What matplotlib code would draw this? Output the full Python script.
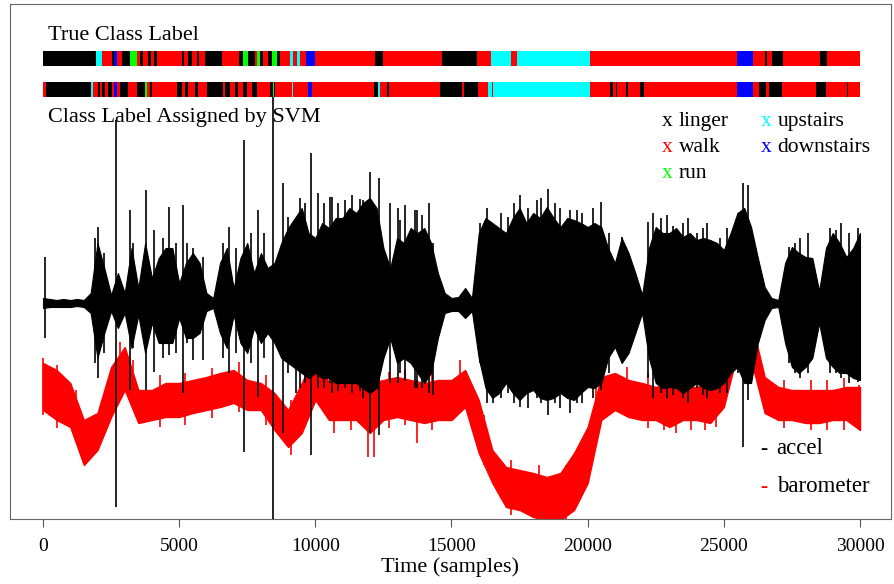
import numpy as np
import matplotlib.pyplot as plt

# class codes: 0 linger, 1 walk, 2 run, 3 upstairs, 4 downstairs
class_names = ['linger', 'walk', 'run', 'upstairs', 'downstairs']
class_colors = ['black', '#ff0000', '#00ff00', '#00ffff', '#0000ff']

# label segments (start sample, class); each runs to the next start, last one to 30000
true_start = [0, 1946, 2166, 2534, 2607, 2717, 2901, 3195, 3452, 3562, 3672, 3856,
              3966, 4076, 4186, 5104, 5178, 5324, 5471, 5655, 5728, 5949, 6573, 7197,
              7344, 7528, 7785, 7858, 7969, 8079, 8262, 8409, 8593, 8703, 9070, 9180,
              9327, 9437, 9657, 9988, 12191, 12485, 14651, 15936, 16451, 17185, 17405,
              20086, 25484, 26071, 26512, 26585, 26769, 27173, 28531, 28788]
true_class = [0, 3, 1, 0, 4, 1, 0, 2, 1, 0, 1, 0,
              1, 0, 1, 0, 1, 0, 1, 0, 1, 0, 1, 0,
              2, 0, 1, 2, 0, 1, 0, 2, 0, 1, 3, 1,
              3, 1, 4, 1, 0, 1, 0, 1, 3, 1, 3,
              1, 4, 1, 0, 1, 0, 1, 0, 1]

svm_start = [0, 110, 1763, 1836, 2020, 2093, 2166, 2277, 2387, 2534, 2607, 2717,
             2827, 3121, 3452, 3745, 3819, 3929, 4002, 4920, 5104, 5214, 5324, 5581,
             5692, 6022, 6610, 6683, 6867, 7050, 7160, 7344, 7491, 7674, 7858, 8335,
             8446, 8482, 8519, 9143, 9180, 9731, 9878, 12154, 12301, 12375, 12632,
             12705, 14578, 15386, 15459, 15973, 16341, 16487, 16524, 20086, 20820,
             20930, 21041, 21078, 21408, 21482, 21922, 22069, 25484, 26071, 26291,
             26549, 26659, 27136, 28385, 28752, 29523, 29560]
svm_class = [1, 0, 3, 1, 0, 1, 0, 1, 0, 1, 4, 1,
             0, 1, 0, 2, 1, 0, 1, 0, 1, 0, 1, 0,
             1, 0, 1, 0, 1, 0, 1, 0, 1, 0, 1, 0,
             2, 0, 1, 3, 1, 4, 1, 0, 3, 1, 0,
             1, 0, 1, 0, 1, 3, 1, 3, 1, 0,
             1, 0, 1, 0, 1, 0, 1, 4, 1, 0,
             1, 0, 1, 0, 1, 0, 1]
n_samples = 30000

# accelerometer envelope (deviation from resting level), every 250 samples
accel_t = np.arange(0, 30001, 250)
accel_hi = [5, 4, 3, 4, 3, 4, 3, 10, 60, 35, 8, 30, 10, 55, 15, 60, 25, 45, 55, 55,
            20, 40, 50, 40, 10, 5, 40, 55, 15, 45, 60, 30, 50, 35, 40, 60, 75, 85,
            95, 70, 65, 80, 75, 85, 85, 95, 90, 100, 105, 95, 55, 35, 65, 60, 75,
            70, 75, 60, 30, 10, 5, 6, 15, 5, 70, 85, 80, 75, 70, 85, 95, 80, 90,
            85, 96, 85, 76, 85, 83, 80, 76, 80, 76, 55, 40, 65, 50, 30, 8, 55, 76,
            70, 70, 75, 66, 70, 63, 65, 63, 60, 53, 70, 90, 95, 76, 45, 16, 5, 3,
            40, 56, 50, 46, 45, 12, 55, 70, 60, 46, 55, 70]
accel_lo = [-5, -4, -4, -4, -4, -3, -4, -10, -55, -30, -8, -25, -10, -45, -12, -50,
            -20, -40, -40, -40, -15, -35, -35, -30, -8, -5, -30, -45, -12, -40, -50,
            -25, -40, -30, -40, -55, -60, -65, -70, -75, -70, -75, -75, -80, -80,
            -80, -80, -85, -90, -85, -55, -35, -60, -55, -60, -70, -80, -70, -35,
            -10, -8, -8, -15, -8, -55, -85, -95, -90, -80, -90, -97, -90, -87, -95,
            -97, -95, -90, -95, -97, -90, -84, -85, -80, -55, -44, -60, -50, -30,
            -10, -55, -80, -85, -84, -85, -90, -85, -80, -85, -87, -85, -80, -70,
            -64, -80, -80, -40, -17, -5, -4, -40, -64, -70, -64, -55, -20, -55, -64,
            -70, -70, -75, -77]

# single accelerometer spikes: sample, top, bottom
spike_t = [70, 1900, 2030, 2250, 2680, 3195, 3300, 3780, 4080, 4400, 4630, 4900,
           5140, 5300, 5510, 5875, 6600, 6830, 7100, 7380, 7650, 7895, 8100, 8446,
           8813, 8980, 9300, 9437, 9621, 9840, 10098, 10320, 10539, 10620, 10832,
           11089, 11346, 11640, 11760, 12000, 12340, 12742, 13036, 13110, 13293,
           13660, 13720, 13917, 14170, 14330, 16047, 16300, 16536, 16800, 17087,
           17300, 17500, 17800, 18128, 18300, 18545, 18800, 19000, 19350, 19595,
           19800, 20200, 20490, 20800, 21250, 22230, 22400, 22700, 22900, 23150,
           23500, 23700, 24000, 24250, 24400, 24860, 25100, 25510, 25700, 25890,
           27400, 27600, 27800, 28100, 28900, 29110, 29300, 29600, 29930]
spike_hi = [46, 65, 76, 50, 183, 93, 60, 113, 73, 65, 96, 60,
            98, 60, 55, 46, 60, 76, 55, 163, 70, 93, 70, 206,
            120, 86, 83, 105, 100, 150, 110, 100, 106, 106, 100,
            103, 108, 104, 103, 131, 125, 100, 95, 83, 98,
            93, 93, 88, 100, 60, 80, 95, 70, 90, 86,
            100, 108, 95, 103, 105, 114, 100, 95, 93, 93,
            90, 95, 101, 70, 66, 81, 90, 85, 88, 77,
            80, 85, 70, 75, 80, 65, 75, 90, 120, 118,
            56, 60, 65, 70, 75, 73, 80, 70, 75]
spike_lo = [-35, -60, -75, -50, -204, -87, -45, -87, -69, -55, -52, -50,
            -90, -40, -57, -57, -55, -70, -50, -149, -60, -94, -55, -216,
            -130, -70, -90, -85, -80, -152, -85, -85, -80, -90, -88,
            -85, -90, -88, -95, -130, -132, -80, -80, -70, -78,
            -85, -85, -85, -90, -92, -60, -100, -100, -95, -90,
            -100, -104, -105, -95, -100, -112, -100, -105, -110, -100,
            -100, -95, -87, -70, -60, -75, -95, -90, -95, -92,
            -95, -100, -85, -92, -95, -90, -90, -70, -144, -97,
            -60, -70, -75, -70, -70, -70, -75, -80, -79]

# barometer band (deviation from its mean level), every 500 samples
baro_t = np.arange(0, 30001, 500)
baro_hi = [37, 30, 17, -20, -13, 33, 53, 10, 10, 17, 17, 20, 23, 27, 30, 20, 17, 7,
           -10, 17, 47, 17, 23, 23, 17, 20, 23, 20, 17, 20, 20,
           30, 0, -50, -67, -70, -73, -77, -73, -53, -27, 23, 27, 20, 17, 13, 17, 13,
           13, 17, 33, 87, 80, 23, 13, 10, 10, 10, 10, 13, 13]
baro_lo = [-10, -20, -27, -65, -50, -17, 10, -23, -20, -17, -17, -13, -10, -7, -3,
           -10, -10, -30, -47, -33, 0, -20, -20, -20, -33, -20, -17, -20, -23, -20,
           -20, -7, -53, -83, -107, -110, -117, -120, -120, -110, -83, -20, -10, -17,
           -20, -20, -27, -20, -20, -23, -7, 47, 40, -13, -20, -20, -23, -23, -20,
           -20, -30]

# single barometer spikes: sample, top, bottom
baro_spike_t = [10, 500, 1200, 2830, 3300, 4300, 5200, 6200, 7200, 8200, 9100, 10350,
                10700, 11300, 11950, 12150, 12700, 13300, 13720, 14300, 15300, 16200,
                17200, 18200, 19200, 20300, 21430, 22200, 22800, 23260, 23800, 24300,
                24730, 25800, 26200, 27200, 28200, 28800, 29400, 29960]
baro_spike_hi = [42, 35, 10, 58, 40, 25, 27, 32, 38, 25, 0, 58,
                 20, 30, 15, 15, 28, 30, 20, 28, 40, -15,
                 -60, -65, -65, 35, 33, 27, 25, 15, 22, 25,
                 15, 92, 85, 20, 20, 20, 22, 15]
baro_spike_lo = [-15, -28, -40, 5, -5, -27, -25, -18, -12, -25, -55, -5,
                 -33, -30, -57, -57, -28, -25, -43, -30, -10, -65,
                 -115, -120, -120, -30, -15, -28, -30, -33, -30, -30,
                 -27, 40, 30, -28, -30, -30, -30, -30]

accel_level = 216
baro_level = 119
serif = ['Liberation Serif', 'DejaVu Serif']

fig = plt.figure(figsize=(8.95, 5.84), dpi=100)
ax = fig.add_axes([10 / 895, 65 / 584, 881 / 895, 515 / 584])

# barometer
ax.fill_between(baro_t, baro_level + np.array(baro_lo), baro_level + np.array(baro_hi),
                color='#ff0000', lw=1, zorder=2)
ax.vlines(baro_spike_t, baro_level + np.array(baro_spike_lo),
          baro_level + np.array(baro_spike_hi), color='#ff0000', lw=1.2, zorder=2)

# accelerometer
ax.fill_between(accel_t, accel_level + np.array(accel_lo), accel_level + np.array(accel_hi),
                color='black', lw=0.8, zorder=3)
ax.vlines(spike_t, accel_level + np.array(spike_lo), accel_level + np.array(spike_hi),
          color='black', lw=1.2, zorder=3)


# label bars
def draw_bar(starts, classes, y0, h):
    ends = starts[1:] + [n_samples]
    for s, e, c in zip(starts, ends, classes):
        ax.broken_barh([(s, e - s)], (y0, h), facecolors=class_colors[c], zorder=4)


draw_bar(true_start, true_class, 453, 15)
draw_bar(svm_start, svm_class, 422, 15)

ax.text(170, 479, 'True Class Label', fontsize=16, family=serif, va='baseline')
ax.text(170, 397, 'Class Label Assigned by SVM', fontsize=16, family=serif,
        va='baseline', zorder=5)

# class legend
leg_pos = [(22720, 393), (22720, 367), (22720, 341), (26350, 393), (26350, 367)]
for (lx, ly), name, col in zip(leg_pos, class_names, class_colors):
    ax.text(lx, ly, 'x', color=col, fontsize=15.5, family=serif, va='baseline')
    ax.text(lx + 620, ly, name, color='black', fontsize=15.5, family=serif, va='baseline')

# signal legend
ax.text(26350, 65, '-', color='black', fontsize=15.5, family=serif, va='baseline')
ax.text(26940, 65, 'accel', color='black', fontsize=16.5, family=serif, va='baseline')
ax.text(26350, 27, '-', color='#ff0000', fontsize=15.5, family=serif, va='baseline')
ax.text(26940, 27, 'barometer', color='black', fontsize=16.5, family=serif, va='baseline')

ax.set_xlim(-1212, 31139)
ax.set_ylim(0, 515)
ax.set_yticks([])
ax.set_xticks(np.arange(0, 30001, 5000))
for lab in ax.get_xticklabels():
    lab.set_family(serif)
ax.tick_params(axis='x', labelsize=14, length=6, color='#555555', pad=8)
for sp in ax.spines.values():
    sp.set_color('#666666')
ax.set_xlabel('Time (samples)', fontsize=16, family=serif, labelpad=1)

fig.savefig('out.png', dpi=100)
